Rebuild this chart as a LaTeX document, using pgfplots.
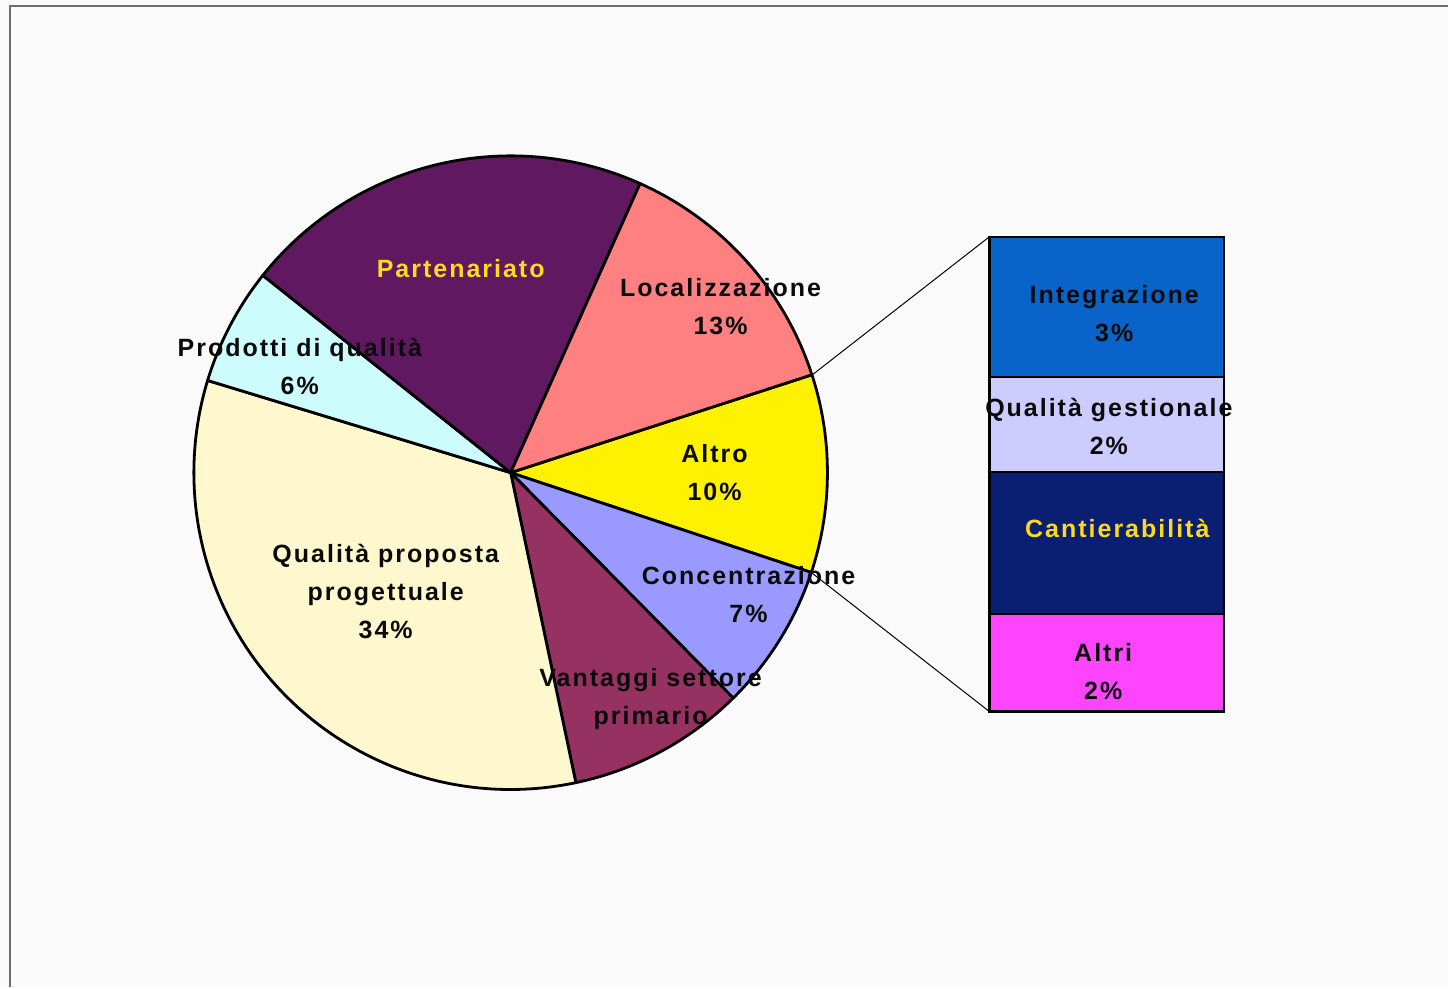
\documentclass[border=0pt]{standalone}
\usepackage{pgfplots}
\pgfplotsset{compat=1.18}
\usepackage{fontspec}
\setmainfont{Liberation Sans}[LetterSpace=8]
\definecolor{bgcol}{HTML}{FAFAFA}
\definecolor{framecol}{HTML}{6E6E6E}
\definecolor{cPar}{HTML}{601860}
\definecolor{cLoc}{HTML}{FF8080}
\definecolor{cAlt}{HTML}{FFF200}
\definecolor{cCon}{HTML}{9999FF}
\definecolor{cVan}{HTML}{963262}
\definecolor{cQua}{HTML}{FFF8CE}
\definecolor{cPro}{HTML}{CCFCFC}
\definecolor{cInt}{HTML}{0864C8}
\definecolor{cGes}{HTML}{CCCCFF}
\definecolor{cCan}{HTML}{0A1E72}
\definecolor{cAltri}{HTML}{FF44FF}
\definecolor{labY}{HTML}{FFD820}
\definecolor{labK}{HTML}{0A0A0A}
\tikzset{lab/.style={font=\fontsize{12.5}{19}\selectfont\bfseries, align=center, text=labK, inner sep=0pt}}
\pgfplotsset{baraxis/.style={at={(495pt,138pt)}, anchor=south west, scale only axis, width=117.5pt, height=237.5pt,
  xmin=0, xmax=1, ymin=0, ymax=10, axis lines=none, ticks=none, clip=false}}
\begin{document}
\begin{tikzpicture}
\begin{axis}[at={(0,0)}, anchor=south west, scale only axis, width=724.5pt, height=494pt,
  xmin=0, xmax=1449, ymin=0, ymax=988, axis lines=none, ticks=none, clip=false]
  \fill[bgcol] (axis cs:0,0) rectangle (axis cs:1449,988);
  \draw[framecol, line width=1pt] (axis cs:10,0) -- (axis cs:10,982) -- (axis cs:1449,982);
  % pie: shares in percent, clockwise from the top edge of "Altro"
  \gdef\pa{18}
  \foreach \v/\c in {10.1/cAlt,7.5/cCon,9.1/cVan,33.0/cQua,6.0/cPro,21.0/cPar,13.3/cLoc}{
    \pgfmathsetmacro\pb{\pa-3.6*\v}
    \edef\tmp{\noexpand\filldraw[fill=\c,draw=black,line width=1.4pt,line join=round]
      (axis cs:511,515) -- ++(\pa:158.5pt) arc[start angle=\pa,end angle=\pb,radius=158.5pt] -- cycle;}
    \tmp
    \xdef\pa{\pb}
  }
  \draw[black, line width=0.5pt] (axis cs:813,613) -- (axis cs:990,751);
  \draw[black, line width=0.5pt] (axis cs:812,415) -- (axis cs:990,276);
  \node[lab, text=labY] at (axis cs:461,719) {Partenariato};
  \node[lab] at (axis cs:721,681) {Localizzazione\\13\%};
  \node[lab] at (axis cs:300,621) {Prodotti di qualità\\6\%};
  \node[lab] at (axis cs:715,515) {Altro\\10\%};
  \node[lab] at (axis cs:386,396) {Qualità proposta\\progettuale\\34\%};
  \node[lab] at (axis cs:749,393) {Concentrazione\\7\%};
  \node[lab] at (axis cs:651,288) {Vantaggi settore\\primario};
\end{axis}
\begin{axis}[baraxis, ybar stacked, bar width=117.5pt]
  \addplot[fill=cAltri, draw=black, line width=1.2pt] coordinates {(0.5,2.05)};
  \addplot[fill=cCan, draw=black, line width=1.2pt] coordinates {(0.5,3.0)};
  \addplot[fill=cGes, draw=black, line width=1.2pt] coordinates {(0.5,2.0)};
  \addplot[fill=cInt, draw=black, line width=1.2pt] coordinates {(0.5,2.95)};
\end{axis}
\begin{axis}[baraxis]
  \node[lab] at (axis cs:0.532,8.39) {Integrazione\\3\%};
  \node[lab] at (axis cs:0.509,6.01) {Qualità gestionale\\2\%};
  \node[lab, text=labY] at (axis cs:0.545,3.85) {Cantierabilità};
  \node[lab] at (axis cs:0.485,0.84) {Altri\\2\%};
\end{axis}
\end{tikzpicture}
\end{document}
